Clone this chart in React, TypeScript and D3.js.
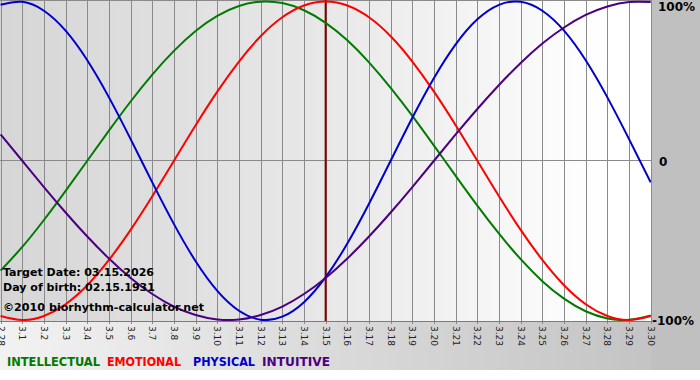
import React from "react";
import * as d3 from "d3";

const dayLabels = [
  "2.28", "3.1", "3.2", "3.3", "3.4", "3.5", "3.6", "3.7", "3.8", "3.9", "3.10",
  "3.11", "3.12", "3.13", "3.14", "3.15", "3.16", "3.17", "3.18", "3.19", "3.20",
  "3.21", "3.22", "3.23", "3.24", "3.25", "3.26", "3.27", "3.28", "3.29", "3.30",
];

const physical = [
  0.979, 0.998, 0.942, 0.817, 0.631, 0.398, 0.136, -0.136, -0.398, -0.631, -0.817,
  -0.942, -0.998, -0.979, -0.888, -0.731, -0.52, -0.27, 0.0, 0.27, 0.52,
  0.731, 0.888, 0.979, 0.998, 0.942, 0.817, 0.631, 0.398, 0.136, -0.136,
];
const emotional = [
  -0.975, -1.0, -0.975, -0.901, -0.782, -0.623, -0.434, -0.223, 0.0, 0.223, 0.434,
  0.623, 0.782, 0.901, 0.975, 1.0, 0.975, 0.901, 0.782, 0.623, 0.434,
  0.223, 0.0, -0.223, -0.434, -0.623, -0.782, -0.901, -0.975, -1.0, -0.975,
];
const intellectual = [
  -0.69, -0.541, -0.372, -0.189, 0.0, 0.189, 0.372, 0.541, 0.69, 0.815, 0.91,
  0.972, 0.999, 0.99, 0.945, 0.866, 0.756, 0.618, 0.458, 0.282, 0.095,
  -0.095, -0.282, -0.458, -0.618, -0.756, -0.866, -0.945, -0.99, -0.999, -0.972,
];
const intuitive = [
  0.165, 0.0, -0.165, -0.325, -0.476, -0.614, -0.736, -0.837, -0.916, -0.969, -0.997,
  -0.997, -0.969, -0.916, -0.837, -0.736, -0.614, -0.476, -0.325, -0.165, 0.0,
  0.165, 0.325, 0.476, 0.614, 0.736, 0.837, 0.916, 0.969, 0.997, 0.997,
];

const targetIndex = 15;
const yTicks = [
  { v: 1, label: "100%" },
  { v: 0, label: "0" },
  { v: -1, label: "-100%" },
];
const infoLines = ["Target Date: 03.15.2026", "Day of birth: 02.15.1931", "\u00a92010 biorhythm-calculator.net"];
const legend = [
  { name: "INTELLECTUAL", color: "#007a00" },
  { name: "EMOTIONAL", color: "#ff0000" },
  { name: "PHYSICAL", color: "#0000cc" },
  { name: "INTUITIVE", color: "#4b0082" },
];

const series = [
  { values: intellectual, color: "#007a00" },
  { values: emotional, color: "#ff0000" },
  { values: physical, color: "#0000cc" },
  { values: intuitive, color: "#4b0082" },
];

export default function App() {
  const W = 700;
  const H = 380;
  const plotR = 651;
  const plotB = 321;
  const x = d3.scaleLinear().domain([0, dayLabels.length - 1]).range([0.6, 650.7]);
  const y = d3.scaleLinear().domain([-1, 1]).range([320, 1.5]);
  const line = d3
    .line<number>()
    .x((_, i) => x(i))
    .y((d) => y(d))
    .curve(d3.curveNatural);

  const legendX = [7, 107, 193, 262];
  const legendW = [93, 74, 62, 68];

  return (
    <svg
      width={W}
      height={H}
      style={{ position: "absolute", left: 0, top: 0, display: "block" }}
      fontFamily="DejaVu Sans, Verdana, sans-serif"
    >
      <defs>
        <linearGradient id="plotBg" x1="0" x2="1" y1="0" y2="0">
          <stop offset="0" stopColor="#d6d6d6" />
          <stop offset="0.5" stopColor="#e8e8e8" />
          <stop offset="0.93" stopColor="#ffffff" />
          <stop offset="1" stopColor="#ffffff" />
        </linearGradient>
        <linearGradient id="bottomBg" x1="0" x2="1" y1="0" y2="0">
          <stop offset="0" stopColor="#f2f2f2" />
          <stop offset="1" stopColor="#c0c0c0" />
        </linearGradient>
        <clipPath id="plotClip">
          <rect x={0} y={0} width={plotR} height={plotB} />
        </clipPath>
      </defs>
      <rect x={0} y={0} width={W} height={H} fill="#ffffff" />
      <rect x={0} y={plotB} width={W} height={370 - plotB} fill="url(#bottomBg)" />
      <rect x={plotR} y={0} width={W - plotR} height={370} fill="#c0c0c0" />
      <rect x={0} y={0} width={plotR} height={plotB} fill="url(#plotBg)" />

      {dayLabels.map((lab, i) => (
        <line
          key={"g" + i}
          x1={Math.round(x(i)) + 0.5}
          x2={Math.round(x(i)) + 0.5}
          y1={0}
          y2={plotB + 3}
          stroke="#8a8a8a"
          strokeWidth={1}
        />
      ))}
      <line x1={0} x2={plotR} y1={0.5} y2={0.5} stroke="#8a8a8a" />
      <line x1={0} x2={plotR} y1={160.5} y2={160.5} stroke="#8a8a8a" />
      <line x1={0} x2={plotR} y1={plotB + 0.5} y2={plotB + 0.5} stroke="#7a7a7a" />

      <line
        x1={x(targetIndex)}
        x2={x(targetIndex)}
        y1={0}
        y2={plotB}
        stroke="#800000"
        strokeWidth={2}
      />

      <g clipPath="url(#plotClip)">
        {series.map((s, k) => (
          <path
            key={k}
            d={line(s.values) || ""}
            fill="none"
            stroke={s.color}
            strokeWidth={2}
          />
        ))}
      </g>

      {infoLines.map((t, i) => (
        <text
          key={"t" + i}
          x={3}
          y={[276, 291, 311][i]}
          fontSize={11}
          fontWeight="bold"
          fill="#000"
          textLength={[151, 152, 201][i]}
          lengthAdjust="spacingAndGlyphs"
        >
          {t}
        </text>
      ))}

      {dayLabels.map((lab, i) => (
        <text
          key={"l" + i}
          transform={`translate(${x(i)},${plotB + 5}) rotate(90)`}
          fontSize={9}
          fill="#222"
          dominantBaseline="central"
          textAnchor="start"
        >
          {lab}
        </text>
      ))}

      {yTicks.map((t) => (
        <text
          key={t.label}
          x={t.v === -1 ? 652 : t.v === 0 ? 659 : 658}
          y={y(t.v) + (t.v === 1 ? 5 : 1)}
          fontSize={12}
          fontWeight="bold"
          fill="#000"
          dominantBaseline="central"
        >
          {t.label}
        </text>
      ))}

      {legend.map((l, i) => (
        <text
          key={l.name}
          x={legendX[i]}
          y={366}
          fontSize={12}
          fontWeight="bold"
          fill={l.color}
          fontFamily="DejaVu Sans Condensed, DejaVu Sans, sans-serif"
          textLength={legendW[i]}
          lengthAdjust="spacingAndGlyphs"
        >
          {l.name}
        </text>
      ))}
    </svg>
  );
}
